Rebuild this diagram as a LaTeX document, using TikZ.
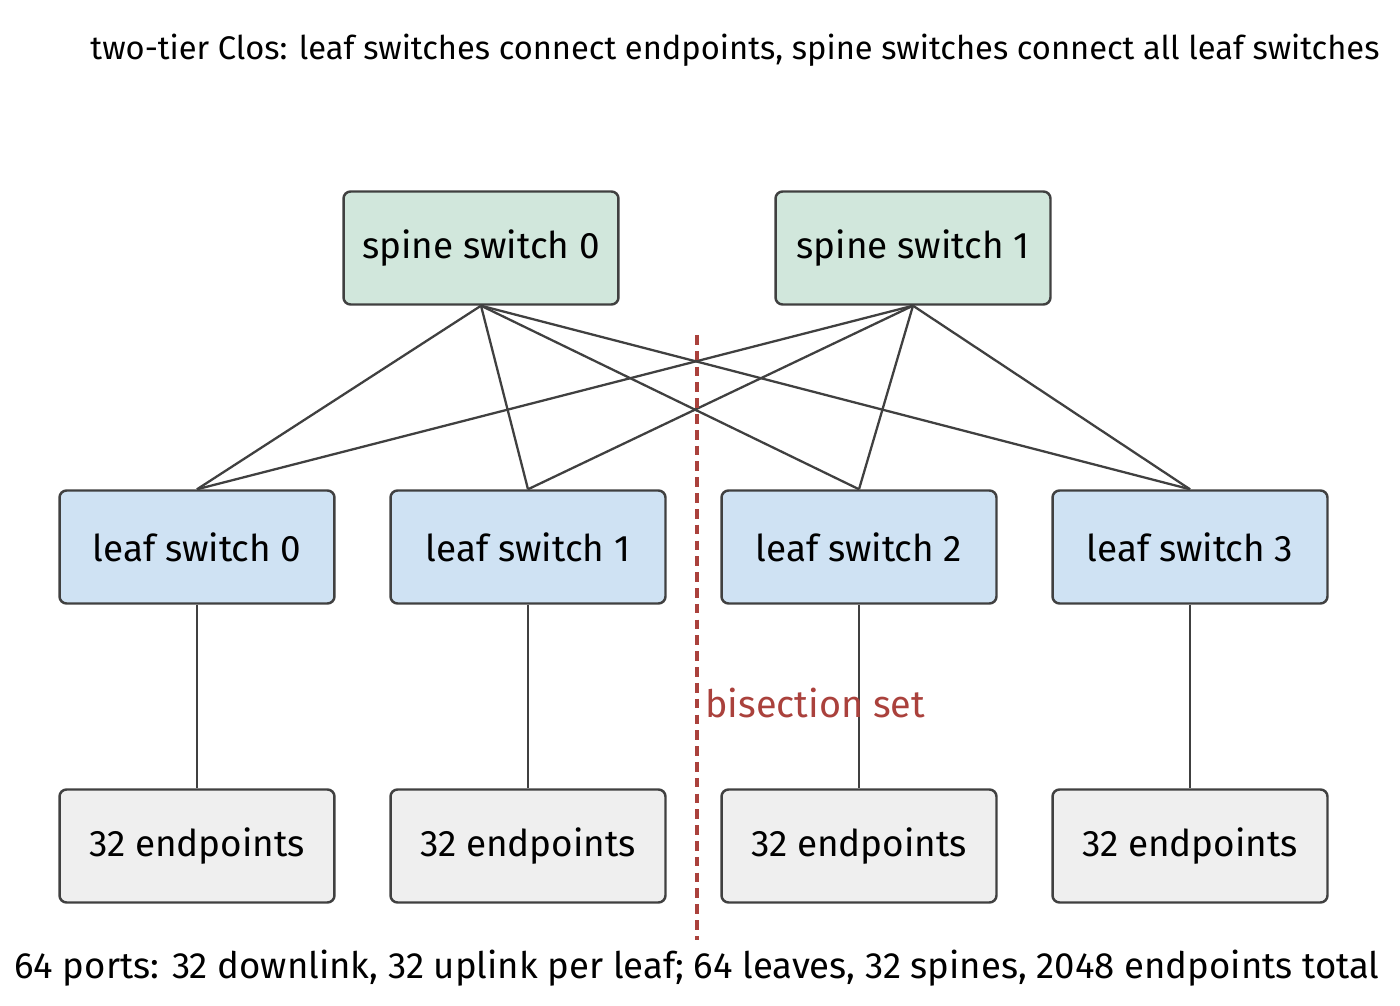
\documentclass[tikz,border=0pt]{standalone}
\usepackage{fontspec}
\setmainfont{Fira Sans}
\definecolor{spinefill}{RGB}{209,231,220}
\definecolor{leaffill}{RGB}{207,226,243}
\definecolor{epfill}{RGB}{239,239,239}
\definecolor{edge}{RGB}{64,64,64}
\definecolor{bisect}{RGB}{170,65,60}
\tikzset{
  box/.style={draw=edge, line width=1.4pt, rounded corners=4pt, minimum width=5.5cm, minimum height=2.26cm, font=\fontsize{21}{25}\selectfont},
  spine/.style={box, fill=spinefill},
  leaf/.style={box, fill=leaffill},
  ends/.style={box, fill=epfill},
  link/.style={draw=edge, line width=1.3pt}
}
\begin{document}
\begin{tikzpicture}[x=0.02cm, y=-0.02cm]
            \useasboundingbox (0,0) rectangle (1400,1006);
            \node[font=\fontsize{18.6}{22}\selectfont] (title) at (735,50) {two-tier Clos: leaf switches connect endpoints, spine switches connect all leaf switches};

            \node[spine] (s0) at (481,248) {spine switch 0};
            \node[spine] (s1) at (913,248) {spine switch 1};

            \foreach \i/\x in {0/197, 1/528, 2/859, 3/1190} {
                \node[leaf] (l\i) at (\x,547) {leaf switch \i};
                \node[ends] (e\i) at (\x,846) {32 endpoints};
                \draw[link] (l\i.south) -- (e\i.north);
                \draw[link] (s0.south) -- (l\i.north);
                \draw[link] (s1.south) -- (l\i.north);
            }

            \coordinate (btop) at (697,335);
            \coordinate (bbot) at (697,940);
            \draw[bisect, line width=2.2pt, dash pattern=on 5.5pt off 3.5pt] (btop) -- (bbot);
            \node[bisect, anchor=west, inner sep=0, font=\fontsize{21.5}{25}\selectfont] (blabel) at (705,703) {bisection set};

            \node[font=\fontsize{20.8}{24}\selectfont] (foot) at (697,968) {64 ports: 32 downlink, 32 uplink per leaf; 64 leaves, 32 spines, 2048 endpoints total};
        \end{tikzpicture}
\end{document}
